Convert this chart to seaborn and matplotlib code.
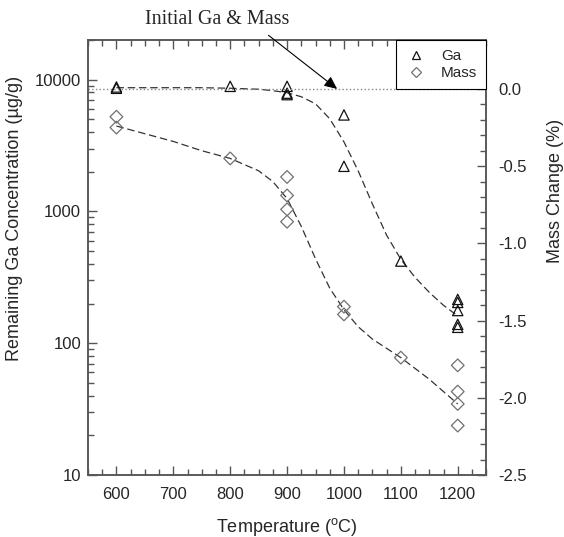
import matplotlib
matplotlib.use('Agg')
import matplotlib.pyplot as plt
import matplotlib.ticker as mticker
from matplotlib.lines import Line2D
import seaborn as sns

# --------------measured points--------------
ga_temp = [600, 600, 800, 900, 900, 900, 1000, 1000, 1100, 1200, 1200, 1200, 1200, 1200]
ga_conc = [8800, 8600, 8900, 8900, 7900, 7700, 5400, 2200, 420, 215, 204, 177, 139, 132]

mass_temp = [600, 600, 800, 900, 900, 900, 900, 1000, 1000, 1100, 1200, 1200, 1200, 1200]
mass_change = [-0.18, -0.25, -0.45, -0.57, -0.69, -0.78, -0.86, -1.41, -1.46, -1.74, -1.79, -1.96, -2.04, -2.18]

# --------------fitted curves--------------
fit_temp = [600, 650, 700, 750, 800, 850, 875, 900, 925, 950, 975, 1000,
            1025, 1050, 1075, 1100, 1125, 1150, 1175, 1200]
ga_fit = [8690, 8690, 8690, 8690, 8610, 8460, 8250, 7960, 7420, 6560, 5050, 3370,
          2030, 1140, 660, 433, 316, 243, 194, 161]
mass_fit = [-0.24, -0.29, -0.34, -0.40, -0.45, -0.53, -0.60, -0.71, -0.89, -1.10, -1.29, -1.43,
            -1.54, -1.62, -1.68, -1.74, -1.81, -1.88, -1.96, -2.04]

initial_mass = 0.0
arrow_temp = 988

sns.set_style('ticks')
plt.rcParams['font.family'] = ['Liberation Sans', 'DejaVu Sans']
plt.rcParams['mathtext.fontset'] = 'custom'
plt.rcParams['mathtext.rm'] = 'Liberation Sans'

spine_col = '#555555'

fig = plt.figure(figsize=(5.64, 5.37), dpi=100)
ax = fig.add_axes([0.156, 0.1155, 0.706, 0.81])
ax2 = ax.twinx()

# Ga on log axis
sns.lineplot(x=fit_temp, y=ga_fit, ax=ax, color='#333333', linestyle=(0, (6, 3)), linewidth=0.9)
sns.scatterplot(x=ga_temp, y=ga_conc, ax=ax, marker='^', s=55, facecolors='none',
                edgecolors='#111111', linewidths=0.9, zorder=3)
ax.set_yscale('log')
ax.set_ylim(10, 20000)
ax.set_xlim(550, 1250)

# mass on right axis
ax2.axhline(initial_mass, color='#888888', linestyle=':', linewidth=1.0)
sns.lineplot(x=fit_temp, y=mass_fit, ax=ax2, color='#333333', linestyle=(0, (6, 3)), linewidth=0.9)
sns.scatterplot(x=mass_temp, y=mass_change, ax=ax2, marker='D', s=42, facecolors='none',
                edgecolors='#707070', linewidths=0.9, zorder=3)
ax2.set_ylim(-2.5, 0.317)

# ticks
ax.xaxis.set_major_locator(mticker.MultipleLocator(100))
ax.xaxis.set_minor_locator(mticker.MultipleLocator(25))
ax.yaxis.set_major_locator(mticker.LogLocator(base=10))
ax.yaxis.set_minor_locator(mticker.LogLocator(base=10, subs=range(2, 10)))
ax.yaxis.set_minor_formatter(mticker.NullFormatter())
ax.yaxis.set_major_formatter(mticker.FuncFormatter(lambda v, p: f'{v:.0f}'))
ax.xaxis.set_major_formatter(mticker.FuncFormatter(lambda v, p: f'{v:.0f}' if 600 <= v <= 1200 else ''))
ax2.yaxis.set_major_locator(mticker.MultipleLocator(0.5))
ax2.yaxis.set_minor_locator(mticker.MultipleLocator(0.1))
ax2.yaxis.set_major_formatter(mticker.FuncFormatter(lambda v, p: f'{v:.1f}' if v <= 0.01 else ''))

ax.tick_params(which='both', direction='in', top=True, right=False, color=spine_col, width=1.0,
               labelsize=12)
ax.tick_params(which='major', length=6.5)
ax.tick_params(which='minor', length=4)
ax.tick_params(axis='x', pad=9)
ax.tick_params(axis='y', pad=5)
ax2.tick_params(which='both', direction='in', color=spine_col, width=1.0, labelsize=12, pad=9)
ax2.tick_params(which='major', length=6.5)
ax2.tick_params(which='minor', length=4)

for a in (ax, ax2):
    for sp in a.spines.values():
        sp.set_color(spine_col)
        sp.set_linewidth(1.1)

ax.set_xlabel(r'Temperature ($^{\mathrm{o}}$C)', fontsize=13, va='center')
ax.xaxis.set_label_coords(0.5, -0.12)
ax.set_ylabel('Remaining Ga Concentration (µg/g)', fontsize=13)
ax.yaxis.set_label_coords(-0.163, 0.589)
ax2.set_ylabel('Mass Change (%)', fontsize=13)
ax2.yaxis.set_label_coords(1.153, 0.653)

# annotation
ax2.annotate('Initial Ga & Mass', xy=(arrow_temp, initial_mass), xytext=(778, 0.447),
             textcoords='data', ha='center', va='center', fontsize=14.5,
             family=['Liberation Serif', 'DejaVu Serif'], annotation_clip=False,
             arrowprops=dict(arrowstyle='-|>,head_length=0.55,head_width=0.25', color='black',
                             lw=0.8, mutation_scale=14, shrinkA=3, shrinkB=0, relpos=(0.8, 0)))

# legend
handles = [Line2D([], [], marker='^', linestyle='none', markerfacecolor='none',
                  markeredgecolor='#111111', markersize=6, markeredgewidth=0.9),
           Line2D([], [], marker='D', linestyle='none', markerfacecolor='none',
                  markeredgecolor='#707070', markersize=5, markeredgewidth=0.9)]
leg = ax2.legend(handles, ['Ga', 'Mass'], loc='upper right', borderaxespad=0, frameon=True,
                 fancybox=False, edgecolor='black', framealpha=1, fontsize=11,
                 handlelength=1.3, handletextpad=1.0, borderpad=0.6, labelspacing=0.2)
leg.get_frame().set_linewidth(0.8)

fig.savefig('out.png', dpi=100)
